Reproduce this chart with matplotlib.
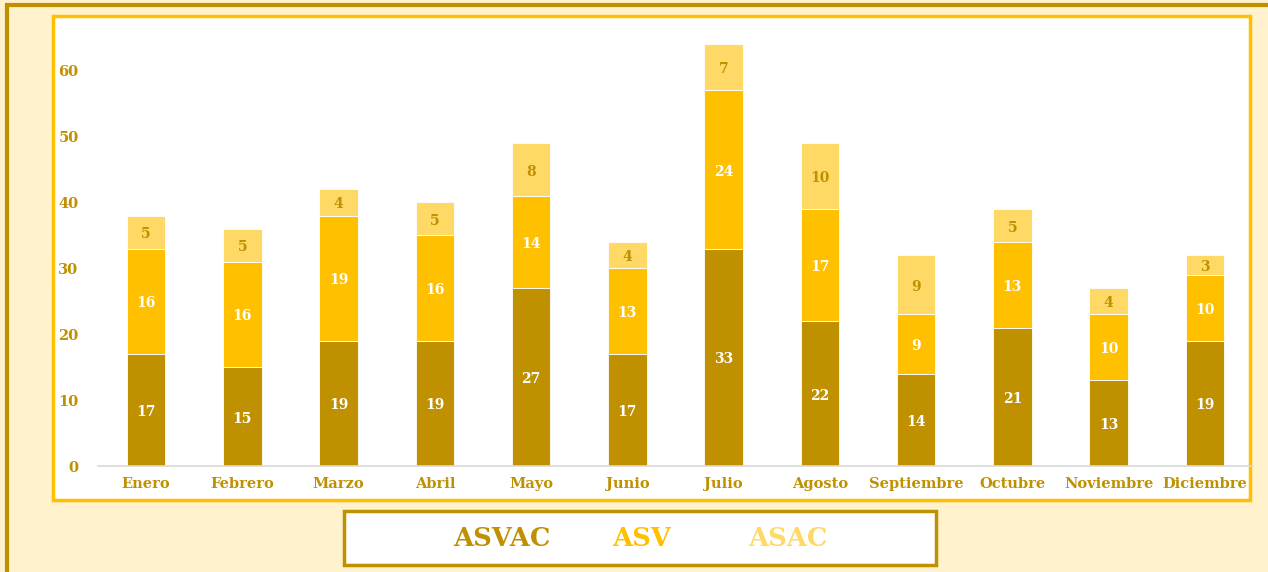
import matplotlib.pyplot as plt
from matplotlib.patches import Rectangle

MONTHS = ["Enero", "Febrero", "Marzo", "Abril", "Mayo", "Junio", "Julio",
          "Agosto", "Septiembre", "Octubre", "Noviembre", "Diciembre"]
ASVAC = [17, 15, 19, 19, 27, 17, 33, 22, 14, 21, 13, 19]
ASV = [16, 16, 19, 16, 14, 13, 24, 17, 9, 13, 10, 10]
ASAC = [5, 5, 4, 5, 8, 4, 7, 10, 9, 5, 4, 3]
SERIES = ["ASVAC", "ASV", "ASAC"]
COLORS = {"ASVAC": "#BF9000", "ASV": "#FFC000", "ASAC": "#FFD966"}
LABEL_COLORS = {"ASVAC": "white", "ASV": "white", "ASAC": "#BF9000"}

W, H = 1268, 572
FONT = "DejaVu Serif"

fig = plt.figure(figsize=(W / 100, H / 100), dpi=100)
fig.patch.set_facecolor("#FFF2CC")


def fx(px):
    return px / W


def fy(py):
    return 1 - py / H


# outer frame
fig.patches.append(Rectangle((fx(7), fy(590)), fx(1300 - 7), (590 - 5) / H,
                             transform=fig.transFigure, facecolor="none",
                             edgecolor="#BF9000", linewidth=3, zorder=-2))
# white chart box
fig.patches.append(Rectangle((fx(53), fy(500)), fx(1250 - 53), (500 - 16) / H,
                             transform=fig.transFigure, facecolor="white",
                             edgecolor="#FFC000", linewidth=2.5, zorder=-1))

y0, ytop = 466, 18
ax = fig.add_axes([fx(98), fy(y0), fx(1253 - 98), (y0 - ytop) / H])
ax.set_facecolor("none")
ax.set_zorder(1)

x = range(len(MONTHS))
bottom = [0] * len(MONTHS)
for name, vals in zip(SERIES, [ASVAC, ASV, ASAC]):
    ax.bar(x, vals, width=0.4, bottom=bottom, color=COLORS[name],
           edgecolor="white", linewidth=0.6, label=name, zorder=2)
    for xi, b, v in zip(x, bottom, vals):
        ax.text(xi, b + v / 2 - 0.3, str(v), ha="center", va="center",
                color=LABEL_COLORS[name], fontsize=10, fontweight="bold",
                family=FONT, zorder=3)
    bottom = [b + v for b, v in zip(bottom, vals)]

ax.set_xlim(-0.5, 11.5)
ax.set_ylim(0, 68)
ax.set_yticks(range(0, 61, 10))
ax.set_xticks(list(x))
ax.set_xticklabels(MONTHS)
for lab in ax.get_xticklabels() + ax.get_yticklabels():
    lab.set_family(FONT)
    lab.set_fontweight("bold")
    lab.set_color("#BF9000")
    lab.set_fontsize(10.5)
ax.tick_params(length=0, pad=8)
ax.tick_params(axis="y", pad=14)
for side in ["top", "right", "left"]:
    ax.spines[side].set_visible(False)
ax.spines["bottom"].set_color("#D9D9D9")
ax.spines["bottom"].set_linewidth(1.2)

# legend box
fig.patches.append(Rectangle((fx(344), fy(565)), fx(936 - 344), (565 - 511) / H,
                             transform=fig.transFigure, facecolor="white",
                             edgecolor="#BF9000", linewidth=2.5, zorder=2))
for name, cx in zip(SERIES, [502, 642, 788]):
    fig.text(fx(cx), fy(538), name, ha="center", va="center",
             color=COLORS[name], fontsize=18.5, fontweight="bold",
             family=FONT, zorder=3)

fig.savefig("out.png", dpi=100, facecolor=fig.get_facecolor())
